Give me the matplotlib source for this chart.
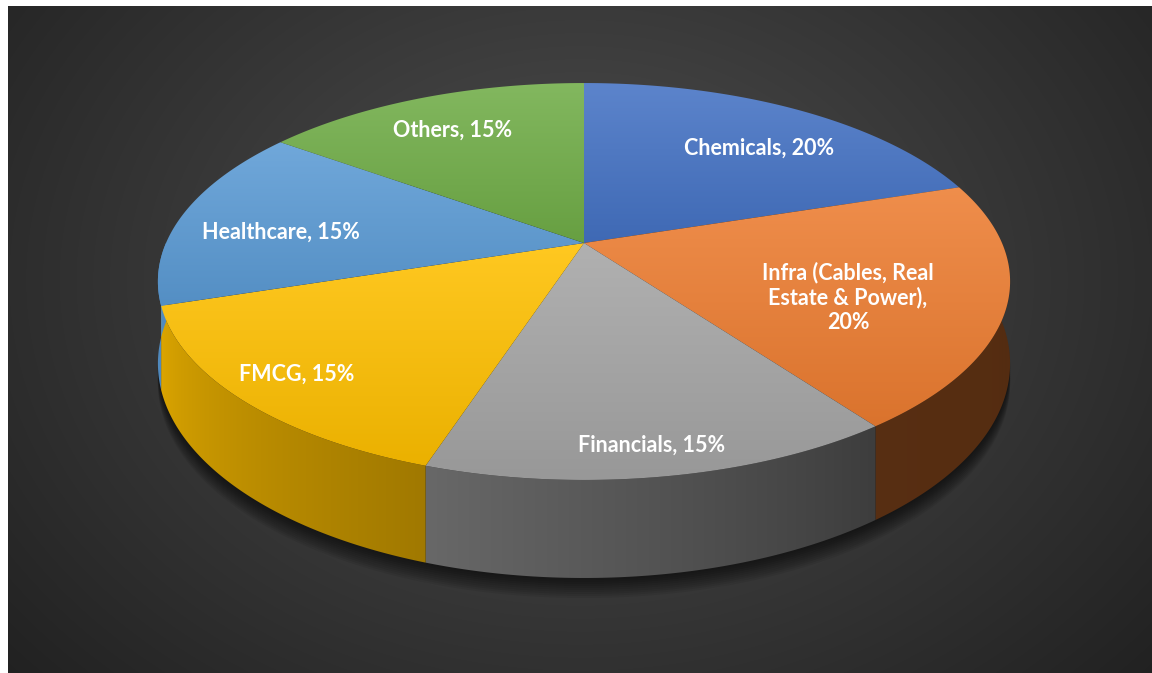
import numpy as np
import matplotlib.pyplot as plt
from matplotlib.patches import Polygon
import matplotlib.colors as mcolors

labels = ['Chemicals, 20%', 'Infra (Cables, Real\nEstate & Power),\n20%', 'Financials, 15%',
          'FMCG, 15%', 'Healthcare, 15%', 'Others, 15%']
shares = [20, 20, 15, 15, 15, 15]
colors = ['#4472C4', '#ED7D31', '#A5A5A5', '#FFC000', '#5B9BD5', '#70AD47']
label_xy = [(759, 148), (848, 297), (652, 445), (297, 374), (281, 232), (453, 130)]

W, H = 1152, 673
fig = plt.figure(figsize=(W / 100, H / 100), dpi=100)
fig.patch.set_facecolor('white')
ax = fig.add_axes([0, 0, 1, 1])
ax.set_xlim(0, W)
ax.set_ylim(H, 0)
ax.axis('off')

# dark radial background
yy, xx = np.mgrid[6:H, 8:W]
r = np.hypot((xx - 580) / 620, (yy - 280) / 480)
g = np.clip(0.31 - 0.145 * r, 0.12, 0.4)
ax.imshow(np.dstack([g, g, g]), extent=(8, W, H, 6), origin='upper', zorder=0, aspect='auto')

# perspective pie geometry
cx, cy = 584, 243
A, B, p, depth = 191, 418, 0.194, 79


def proj(phi, s=1.0):
    t = np.radians(phi)
    u, w = s * np.sin(t), s * np.cos(t)
    d = 1 + p * w
    return cx + B * u / d, cy - A * w / d, d


def shade(phi):
    return np.interp(phi, [90, 144, 198, 252, 262, 270], [0.35, 0.37, 0.63, 0.86, 0.9, 0.9])


bounds = np.concatenate([[0], np.cumsum(shares) * 3.6])

# soft shadow under the pie
ph = np.linspace(0, 360, 361)
sx, sy, sd = proj(ph)
for dy in range(2, 22, 2):
    ax.add_patch(Polygon(np.column_stack([sx, sy + depth / sd + dy]), closed=True,
                         facecolor='black', edgecolor='none', alpha=0.07, zorder=1))

# front side walls (phi 90..270), shaded left-right
for i in range(len(shares)):
    a0, a1 = max(bounds[i], 90), min(bounds[i + 1], 270)
    if a1 <= a0:
        continue
    ph = np.linspace(a0, a1, 200)
    x, y, d = proj(ph)
    pts = np.vstack([np.column_stack([x, y]), np.column_stack([x, y + depth / d])[::-1]])
    poly = Polygon(pts, closed=True, facecolor='none', edgecolor='none', zorder=2)
    ax.add_patch(poly)
    base = np.array(mcolors.to_rgb(colors[i]))
    order = np.argsort(x)
    xs = np.linspace(x.min() - 1, x.max() + 1, 400)
    phx = np.interp(xs, x[order], ph[order])
    img = (base[None, :] * shade(phx)[:, None])[None, :, :]
    img = np.repeat(img, 2, axis=0)
    im = ax.imshow(np.clip(img, 0, 1), extent=(xs[0], xs[-1], pts[:, 1].max() + 1, pts[:, 1].min() - 1),
                   origin='upper', aspect='auto', zorder=2, interpolation='bilinear')
    im.set_clip_path(poly)

# top faces with gradient
for i in range(len(shares)):
    ph = np.linspace(bounds[i], bounds[i + 1], 100)
    x, y, _ = proj(ph)
    pts = np.vstack([[cx, cy], np.column_stack([x, y])])
    poly = Polygon(pts, closed=True, facecolor='none', edgecolor='none', zorder=3)
    ax.add_patch(poly)
    base = np.array(mcolors.to_rgb(colors[i]))
    top = base + (1 - base) * 0.13
    bot = base * 0.92
    y0, y1 = pts[:, 1].min(), pts[:, 1].max()
    t = np.linspace(0, 1, 200)[:, None, None]
    img = top * (1 - t) + bot * t
    img = np.repeat(img, 2, axis=1)
    im = ax.imshow(img, extent=(pts[:, 0].min() - 1, pts[:, 0].max() + 1, y1 + 1, y0 - 1),
                   origin='upper', aspect='auto', zorder=3)
    im.set_clip_path(poly)

for (lx, ly), lab in zip(label_xy, labels):
    ax.text(lx, ly, lab, ha='center', va='center', color='white', fontsize=15.5,
            fontweight='bold', family='Lato', linespacing=1.2, zorder=5)

fig.savefig('out.png', dpi=100)
